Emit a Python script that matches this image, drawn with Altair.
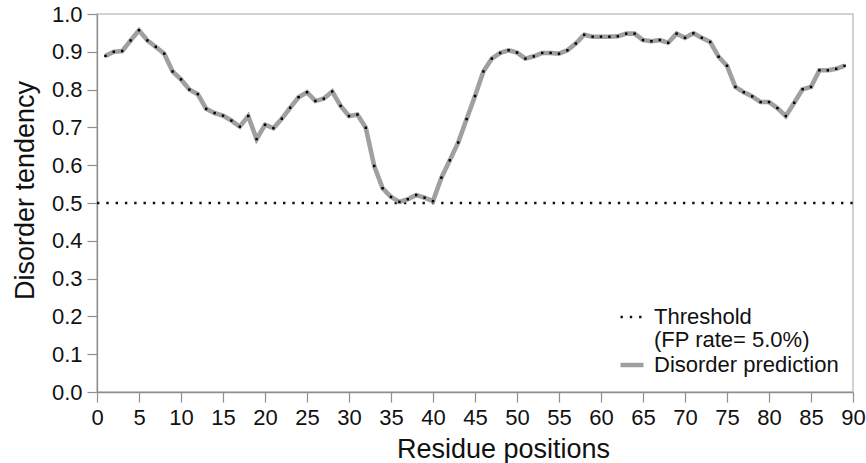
import altair as alt
import pandas as pd

# ---- data ----
residues = list(range(1, 90))
disorder = [
    0.889, 0.900, 0.902, 0.930, 0.957, 0.930, 0.913, 0.895, 0.848, 0.827,
    0.800, 0.788, 0.749, 0.738, 0.731, 0.718, 0.702, 0.730, 0.669, 0.707,
    0.698, 0.723, 0.752, 0.780, 0.793, 0.770, 0.776, 0.795, 0.757, 0.730,
    0.734, 0.699, 0.598, 0.539, 0.516, 0.503, 0.510, 0.521, 0.514, 0.505,
    0.567, 0.613, 0.660, 0.722, 0.783, 0.848, 0.882, 0.897, 0.904, 0.898,
    0.882, 0.888, 0.897, 0.897, 0.895, 0.904, 0.922, 0.945, 0.940, 0.940,
    0.940, 0.941, 0.948, 0.948, 0.931, 0.928, 0.931, 0.924, 0.948, 0.937,
    0.949, 0.937, 0.926, 0.887, 0.863, 0.807, 0.793, 0.782, 0.767, 0.767,
    0.751, 0.730, 0.765, 0.801, 0.807, 0.851, 0.851, 0.855, 0.863,
]
threshold_pos = [0, 90]
threshold_val = [0.5, 0.5]
series_names = ["Threshold", "(FP rate= 5.0%)", "Disorder prediction"]
x_ticks = [0, 5, 10, 15, 20, 25, 30, 35, 40, 45, 50, 55, 60, 65, 70, 75, 80, 85, 90]
y_ticks = [0.0, 0.1, 0.2, 0.3, 0.4, 0.5, 0.6, 0.7, 0.8, 0.9, 1.0]

pred = pd.DataFrame({"pos": residues, "val": disorder, "series": "Disorder prediction"})
thr = pd.DataFrame({"pos": threshold_pos, "val": threshold_val, "series": "Threshold"})
lines_df = pd.concat([thr, pred], ignore_index=True)

FONT = "Liberation Sans"

legend = alt.Legend(
    title=None,
    orient="none",
    legendX=521,
    legendY=290,
    direction="vertical",
    symbolType="stroke",
    symbolSize=529,
    labelFont=FONT,
    labelFontSize=22,
    labelColor="#111111",
    labelOffset=8,
    labelLimit=400,
    rowPadding=0,
    padding=0,
)

x_axis = alt.Axis(
    values=x_ticks, title="Residue positions", grid=False,
    tickSize=10, labelPadding=5, format="d",
    labelOverlap=False, labelBound=False, labelFlush=False,
    titleX=406, titleY=65, titleBaseline="alphabetic", titleAlign="center",
)
y_axis = alt.Axis(
    values=y_ticks, format=".1f", title="Disorder tendency", grid=False,
    tickSize=10, labelPadding=5,
    labelOverlap=False, labelBound=False, labelFlush=False,
    titleX=-64, titleY=176, titleBaseline="alphabetic", titleAngle=270,
    titleAlign="center",
)
x_scale = alt.Scale(domain=[0, 90], nice=False, zero=False)
y_scale = alt.Scale(domain=[0, 1], nice=False, zero=False)

lines = alt.Chart(lines_df).mark_line(strokeCap="butt", strokeJoin="miter").encode(
    x=alt.X("pos:Q", scale=x_scale, axis=x_axis),
    y=alt.Y("val:Q", scale=y_scale, axis=y_axis),
    order=alt.Order("pos:Q"),
    color=alt.Color(
        "series:N",
        scale=alt.Scale(domain=series_names, range=["#111111", "#ffffff", "#a0a0a0"]),
        legend=legend,
    ),
    strokeDash=alt.StrokeDash(
        "series:N",
        scale=alt.Scale(domain=series_names, range=[[2.4, 6.9], [1, 0], [1, 0]]),
        legend=legend,
    ),
    strokeWidth=alt.StrokeWidth(
        "series:N",
        scale=alt.Scale(type="ordinal", domain=series_names, range=[2.4, 0, 4.6]),
        legend=legend,
    ),
)

dots = alt.Chart(pred).mark_square(size=6, color="#000000", opacity=1).encode(
    x=alt.X("pos:Q", scale=x_scale, axis=x_axis),
    y=alt.Y("val:Q", scale=y_scale, axis=y_axis),
)

chart = (
    alt.layer(lines, dots)
    .properties(
        width=756,
        height=378,
        autosize=alt.AutoSizeParams(type="none"),
        padding={"left": 97, "top": 14, "right": 13, "bottom": 71},
        background="white",
    )
    .configure_view(stroke="#c4c4c4", strokeWidth=1.5)
    .configure_axis(
        labelFont=FONT,
        labelFontSize=22,
        labelColor="#111111",
        titleFont=FONT,
        titleFontSize=27,
        titleFontWeight="normal",
        titleColor="#111111",
        domainColor="#8f8f8f",
        domainWidth=1.3,
        tickColor="#8f8f8f",
        tickWidth=1.2,
    )
)

chart.save("out.html", embed_options={"renderer": "svg", "actions": False})
